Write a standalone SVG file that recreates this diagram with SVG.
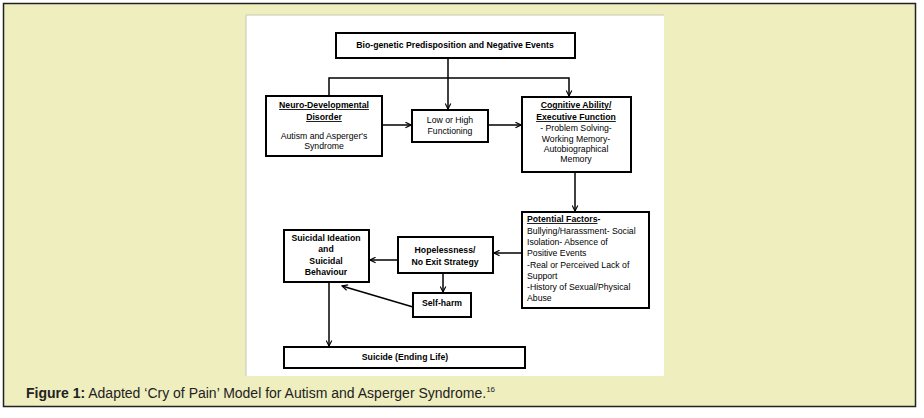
<svg xmlns="http://www.w3.org/2000/svg" width="924" height="418" viewBox="0 0 924 418">
<defs>
<marker id="ah" viewBox="0 0 10 10" refX="9" refY="5" markerWidth="7" markerHeight="7" orient="auto" markerUnits="userSpaceOnUse">
<path d="M1,1 L9,5 L1,9" fill="none" stroke="#000" stroke-width="1.6"/>
</marker>
<style>
.box{fill:#fff;stroke:#000;stroke-width:2}
.t{font-family:"Liberation Sans",Arial,sans-serif;font-size:8.7px;fill:#000;text-anchor:middle}
.b{font-weight:bold}
.u{text-decoration:underline}
.l{text-anchor:start}
.c{fill:none;stroke:#000;stroke-width:1.5}
</style>
</defs>
<rect x="0" y="0" width="924" height="418" fill="#fff"/>
<rect x="3.5" y="3.5" width="912" height="403" fill="#efeebf" stroke="#222" stroke-width="1.5"/>
<rect x="246" y="15" width="418" height="361" fill="#fff"/>
<line x1="246" y1="15" x2="664" y2="15" stroke="#c8c8b0" stroke-width="1"/>
<line x1="246" y1="15" x2="246" y2="376" stroke="#c8c8b0" stroke-width="1"/>

<g id="connectors">
<line class="c" x1="448" y1="58" x2="448" y2="109" marker-end="url(#ah)"/>
<polyline class="c" points="329,95 329,78 569,78 569,96" marker-end="url(#ah)"/>
<line class="c" x1="382" y1="125" x2="411" y2="125" marker-end="url(#ah)"/>
<line class="c" x1="488" y1="125" x2="521" y2="125" marker-end="url(#ah)"/>
<line class="c" x1="575" y1="172" x2="575" y2="211" marker-end="url(#ah)"/>
<line class="c" x1="522" y1="253" x2="494" y2="253" marker-end="url(#ah)"/>
<line class="c" x1="398" y1="260" x2="370" y2="260" marker-end="url(#ah)"/>
<line class="c" x1="443" y1="273" x2="443" y2="292" marker-end="url(#ah)"/>
<line class="c" x1="413" y1="307" x2="342" y2="286" marker-end="url(#ah)"/>
<line class="c" x1="329" y1="282" x2="329" y2="346" marker-end="url(#ah)"/>
</g>

<g id="bio">
<rect class="box" x="336" y="33" width="239" height="25"/>
<text class="t b" x="455" y="48">Bio-genetic Predisposition and Negative Events</text>
</g>
<g id="neuro">
<rect class="box" x="266" y="96" width="116" height="60"/>
<text class="t b u" x="324" y="108">Neuro-Developmental</text>
<text class="t b u" x="324" y="120">Disorder</text>
<text class="t" x="324" y="139">Autism and Asperger's</text>
<text class="t" x="324" y="149">Syndrome</text>
</g>
<g id="lowhigh">
<rect class="box" x="412" y="110" width="76" height="32"/>
<text class="t" x="450" y="123">Low or High</text>
<text class="t" x="450" y="134">Functioning</text>
</g>
<g id="cognitive">
<rect class="box" x="522" y="97" width="109" height="75"/>
<text class="t b u" x="576" y="108">Cognitive Ability/</text>
<text class="t b u" x="576" y="120">Executive Function</text>
<text class="t" x="576" y="131">- Problem Solving-</text>
<text class="t" x="576" y="142">Working Memory-</text>
<text class="t" x="576" y="152">Autobiographical</text>
<text class="t" x="576" y="162">Memory</text>
</g>
<g id="potential">
<rect class="box" x="522" y="212" width="127" height="96"/>
<text class="t l" x="527" y="222"><tspan class="b u">Potential Factors</tspan><tspan class="b">-</tspan></text>
<text class="t l" x="527" y="234">Bullying/Harassment- Social</text>
<text class="t l" x="527" y="245">Isolation- Absence of</text>
<text class="t l" x="527" y="256">Positive Events</text>
<text class="t l" x="527" y="268">-Real or Perceived Lack of</text>
<text class="t l" x="527" y="279">Support</text>
<text class="t l" x="527" y="290">-History of Sexual/Physical</text>
<text class="t l" x="527" y="301">Abuse</text>
</g>
<g id="hopelessness">
<rect class="box" x="398" y="237" width="95" height="36"/>
<text class="t b" x="445" y="253">Hopelessness/</text>
<text class="t b" x="445" y="265">No Exit Strategy</text>
</g>
<g id="suicidal">
<rect class="box" x="284" y="230" width="85" height="52"/>
<text class="t b" x="326" y="241">Suicidal Ideation</text>
<text class="t b" x="326" y="252">and</text>
<text class="t b" x="326" y="264">Suicidal</text>
<text class="t b" x="326" y="275">Behaviour</text>
</g>
<g id="selfharm">
<rect class="box" x="413" y="293" width="58" height="24"/>
<text class="t b" x="442" y="306">Self-harm</text>
</g>
<g id="suicide">
<rect class="box" x="284" y="347" width="241" height="21"/>
<text class="t b" x="405" y="360">Suicide (Ending Life)</text>
</g>
<text x="26" y="398" font-family="'Liberation Sans',Arial,sans-serif" font-size="14" fill="#222"><tspan font-weight="bold">Figure 1:</tspan> Adapted ‘Cry of Pain’ Model for Autism and Asperger Syndrome.<tspan font-size="8" dy="-6">16</tspan></text>
</svg>
